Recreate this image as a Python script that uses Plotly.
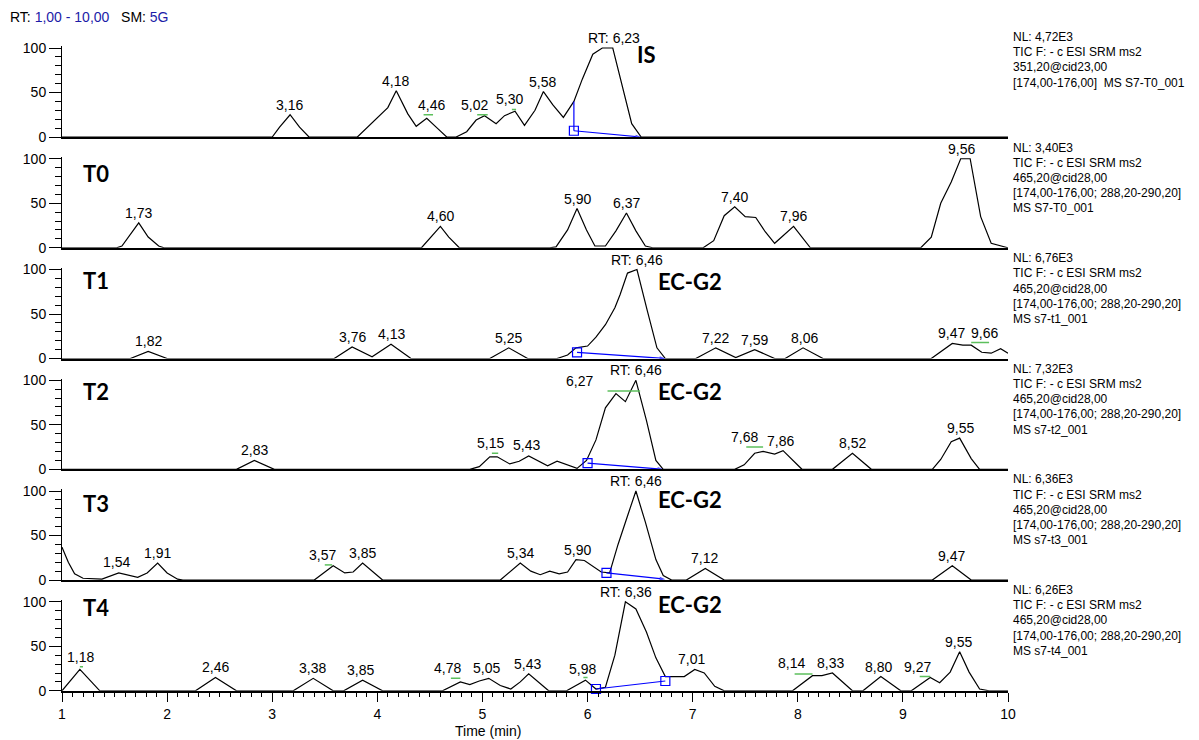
import plotly.graph_objects as go

# ---------------- data ----------------
panel_names = ["IS", "T0", "T1", "T2", "T3", "T4"]

is_t = [1.00, 3.00, 3.07, 3.17, 3.26, 3.35, 3.81, 3.91, 4.01, 4.10, 4.18, 4.29, 4.37, 4.47, 4.57, 4.66, 4.75,
        4.85, 4.94, 5.02, 5.13, 5.21, 5.31, 5.40, 5.50, 5.58, 5.67, 5.77, 5.87, 5.95, 6.05, 6.14, 6.24, 6.32,
        6.42, 6.51, 10.00]
is_v = [0, 0, 11, 25, 11, 0, 0, 11, 23, 33, 52, 26, 12, 21, 10, 0, 0, 6, 19, 24, 15, 24, 29, 13, 30, 51, 36,
        22, 40, 65, 93, 100, 100, 63, 15, 0, 0]

t0_t = [1.00, 1.52, 1.57, 1.63, 1.73, 1.82, 1.92, 1.97, 4.42, 4.60, 4.68, 4.78, 5.64, 5.70, 5.81, 5.90, 5.99,
        6.07, 6.17, 6.27, 6.37, 6.46, 6.55, 6.62, 7.10, 7.20, 7.30, 7.40, 7.50, 7.60, 7.69, 7.78, 7.96, 8.12,
        9.17, 9.27, 9.36, 9.46, 9.55, 9.64, 9.74, 9.84, 9.93, 10.00]
t0_v = [0, 0, 2, 12, 28, 12, 2, 0, 0, 24, 12, 0, 0, 1, 20, 44, 20, 2, 2, 19, 39, 19, 2, 0, 0, 8, 36, 46, 35,
        34, 18, 5, 24, 0, 0, 12, 50, 74, 100, 100, 35, 5, 2, 0]

t1_t = [1.00, 1.65, 1.82, 2.00, 3.59, 3.76, 3.95, 4.13, 4.32, 5.07, 5.25, 5.43, 5.71, 5.81, 5.89, 6.00, 6.08,
        6.17, 6.26, 6.31, 6.38, 6.47, 6.57, 6.66, 6.74, 7.03, 7.22, 7.41, 7.59, 7.78, 7.88, 8.05, 8.24, 9.27,
        9.47, 9.57, 9.65, 9.75, 9.84, 9.93, 10.00]
t1_v = [0, 0, 8, 0, 0, 13, 2, 16, 0, 0, 12, 0, 0, 4, 12, 14, 24, 38, 57, 72, 96, 100, 53, 12, 0, 0, 12, 1, 10,
        0, 0, 12, 0, 0, 17, 15, 15, 7, 6, 11, 6]

t2_t = [1.00, 2.66, 2.83, 3.02, 4.88, 4.97, 5.07, 5.14, 5.26, 5.35, 5.44, 5.54, 5.62, 5.71, 5.81, 5.90, 5.99,
        6.08, 6.17, 6.27, 6.36, 6.46, 6.56, 6.65, 6.72, 7.40, 7.49, 7.59, 7.67, 7.78, 7.86, 7.95, 8.04, 8.33,
        8.52, 8.70, 9.28, 9.36, 9.46, 9.54, 9.65, 9.73, 10.00]
t2_v = [0, 0, 10, 0, 0, 3, 14, 14, 6, 9, 15, 9, 4, 9, 5, 1, 10, 33, 69, 85, 76, 100, 55, 10, 0, 0, 5, 18, 20,
        17, 21, 11, 0, 0, 18, 0, 0, 11, 31, 35, 12, 0, 0]

t3_t = [1.00, 1.06, 1.12, 1.20, 1.38, 1.54, 1.72, 1.81, 1.91, 2.00, 2.10, 2.15, 3.40, 3.58, 3.69, 3.77, 3.86,
        4.05, 5.17, 5.36, 5.46, 5.55, 5.64, 5.73, 5.81, 5.89, 5.97, 6.05, 6.13, 6.21, 6.29, 6.38, 6.46, 6.55,
        6.65, 6.72, 6.80, 6.94, 7.12, 7.30, 9.28, 9.47, 9.65, 10.00]
t3_v = [37, 20, 7, 2, 1, 8, 3, 8, 19, 8, 1, 0, 0, 16, 8, 9, 19, 0, 0, 19, 10, 6, 10, 7, 9, 23, 22, 15, 9, 8,
        40, 72, 100, 65, 23, 5, 0, 0, 13, 0, 0, 16, 0, 0]

t4_t = [1.00, 1.17, 1.36, 2.27, 2.46, 2.66, 3.20, 3.39, 3.58, 3.68, 3.86, 4.05, 4.62, 4.79, 4.88, 4.97, 5.06,
        5.17, 5.27, 5.36, 5.44, 5.54, 5.63, 5.80, 5.98, 6.08, 6.17, 6.26, 6.36, 6.46, 6.56, 6.65, 6.74, 6.83,
        6.92, 7.02, 7.11, 7.21, 7.30, 7.95, 8.14, 8.23, 8.33, 8.52, 8.62, 8.79, 8.98, 9.08, 9.26, 9.35, 9.45,
        9.54, 9.63, 9.73, 9.82, 10.00]
t4_v = [0, 24, 0, 0, 15, 0, 0, 14, 0, 0, 12, 0, 0, 10, 7, 11, 14, 6, 2, 10, 19, 9, 0, 0, 12, 2, 4, 40, 100,
        92, 66, 37, 16, 16, 16, 24, 20, 5, 0, 0, 17, 17, 20, 0, 0, 16, 0, 0, 15, 9, 21, 44, 21, 2, 0, 0]

# peak labels: (text, time, intensity)
is_labels = [("3,16", 3.16, 25), ("4,18", 4.17, 52), ("4,46", 4.52, 25), ("5,02", 4.92, 25),
             ("5,30", 5.26, 31), ("5,58", 5.57, 51), ("RT: 6,23", 6.25, 100)]
t0_labels = [("1,73", 1.73, 28), ("4,60", 4.60, 24), ("5,90", 5.90, 44), ("6,37", 6.37, 39),
             ("7,40", 7.40, 46), ("7,96", 7.96, 24), ("9,56", 9.56, 100)]
t1_labels = [("1,82", 1.82, 8), ("3,76", 3.76, 13), ("4,13", 4.13, 16), ("5,25", 5.25, 12),
             ("RT: 6,46", 6.47, 100), ("7,22", 7.22, 12), ("7,59", 7.59, 10), ("8,06", 8.06, 12),
             ("9,47", 9.46, 17), ("9,66", 9.78, 18)]
t2_labels = [("2,83", 2.83, 10), ("5,15", 5.08, 18), ("5,43", 5.42, 16), ("6,27", 5.92, 88),
             ("RT: 6,46", 6.46, 100), ("7,68", 7.49, 25), ("7,86", 7.84, 21), ("8,52", 8.52, 18),
             ("9,55", 9.55, 35)]
t3_labels = [("1,54", 1.52, 9), ("1,91", 1.91, 19), ("3,57", 3.48, 17), ("3,85", 3.86, 19),
             ("5,34", 5.36, 19), ("5,90", 5.90, 23), ("RT: 6,46", 6.46, 100), ("7,12", 7.11, 13),
             ("9,47", 9.46, 16)]
t4_labels = [("1,18", 1.18, 27), ("2,46", 2.46, 15), ("3,38", 3.38, 14), ("3,85", 3.84, 12),
             ("4,78", 4.67, 14), ("5,05", 5.04, 14), ("5,43", 5.43, 19), ("5,98", 5.95, 13),
             ("RT: 6,36", 6.37, 100), ("7,01", 6.99, 24), ("8,14", 7.94, 20), ("8,33", 8.31, 20),
             ("8,80", 8.77, 16), ("9,27", 9.14, 16), ("9,55", 9.53, 44)]

# green label marks: (t start, t end, intensity)
is_green = [(4.44, 4.53, 25), (4.95, 5.05, 25), (5.28, 5.32, 31)]
t0_green = []
t1_green = [(9.65, 9.82, 18)]
t2_green = [(5.09, 5.15, 18), (6.19, 6.50, 88), (7.51, 7.67, 25)]
t3_green = [(3.50, 3.57, 17)]
t4_green = [(1.17, 1.20, 27), (4.70, 4.79, 14), (5.96, 6.00, 15), (7.97, 8.14, 19), (9.16, 9.26, 16)]

# integration baselines: (t start, v start, t end, v end)
is_base = (5.87, 7, 6.51, 0)
t1_base = (5.90, 7, 6.74, 0)
t2_base = (6.00, 7, 6.72, 0)
t3_base = (6.18, 8, 6.74, 1)
t4_base = (6.08, 2, 6.74, 11)
is_drop = (5.87, 40)

compound_names = ["IS", None, "EC-G2", "EC-G2", "EC-G2", "EC-G2"]
compound_pos = [(6.56, 93), None, (6.97, 87), (6.97, 87), (6.97, 90), (6.97, 97)]
sample_pos_v = [None, 83, 88, 87, 86, 94]

nl_values = ["4,72E3", "3,40E3", "6,76E3", "7,32E3", "6,36E3", "6,26E3"]
filters = ["351,20@cid23,00"] + ["465,20@cid28,00"] * 5
ranges = ["[174,00-176,00]\u00a0 MS S7-T0_001"] + ["[174,00-176,00; 288,20-290,20]"] * 5
files = [None, "MS S7-T0_001", "MS s7-t1_001", "MS s7-t2_001", "MS s7-t3_001", "MS s7-t4_001"]

x_ticks = [1, 2, 3, 4, 5, 6, 7, 8, 9, 10]

series = [(is_t, is_v), (t0_t, t0_v), (t1_t, t1_v), (t2_t, t2_v), (t3_t, t3_v), (t4_t, t4_v)]
labels = [is_labels, t0_labels, t1_labels, t2_labels, t3_labels, t4_labels]
greens = [is_green, t0_green, t1_green, t2_green, t3_green, t4_green]
bases = [is_base, None, t1_base, t2_base, t3_base, t4_base]

# ---------------- layout geometry ----------------
W, H = 1199, 740
X0, X1 = 62, 1008
BASE0, STEP, UNIT = 137.0, 110.76, 0.89
YMAX = 102
FONT = "Liberation Sans, Arial, sans-serif"
BOLD = "Lato, Carlito, sans-serif"
BLUE = "#0000ff"
GREEN = "#5cbf5c"
TXTBLUE = "#1c1ca8"

fig = go.Figure()
annotations = []
layout = {}

for i in range(6):
    sfx = "" if i == 0 else str(i + 1)
    xa, ya = "x" + sfx, "y" + sfx
    b = BASE0 + STEP * i
    top = b - YMAX * UNIT
    last = (i == 5)

    xax = dict(
        domain=[X0 / W, X1 / W], anchor=ya, range=[1, 10], automargin=False,
        showline=True, linecolor="black", linewidth=2, showgrid=False, zeroline=False,
        tickvals=x_ticks if last else [], ticks="outside" if last else "",
        ticklen=9, tickwidth=1, tickcolor="black",
        showticklabels=last, tickfont=dict(family=FONT, size=14, color="black"),
    )
    if last:
        xax["minor"] = dict(dtick=0.1, tick0=0, ticks="outside", ticklen=4, tickcolor="black", tickwidth=1)
    if i > 0:
        xax["matches"] = "x"
    layout["xaxis" + sfx] = xax
    layout["yaxis" + sfx] = dict(
        domain=[1 - b / H, 1 - top / H], anchor=xa, range=[0, YMAX], automargin=False,
        showline=True, linecolor="black", linewidth=1, showgrid=False, zeroline=False,
        tickvals=[0, 50, 100], ticks="outside", ticklen=12, tickwidth=1, tickcolor="black",
        tickfont=dict(family=FONT, size=14, color="black"),
        minor=dict(dtick=10, tick0=0, ticks="outside", ticklen=6, tickcolor="black", tickwidth=1),
    )

    t, v = series[i]
    fig.add_trace(go.Scatter(x=t, y=v, mode="lines", line=dict(color="black", width=1.2),
                             xaxis=xa, yaxis=ya, hoverinfo="skip"))

    for (g0, g1, gv) in greens[i]:
        fig.add_trace(go.Scatter(x=[g0, g1], y=[gv, gv], mode="lines", line=dict(color=GREEN, width=1.5),
                                 xaxis=xa, yaxis=ya, hoverinfo="skip"))

    if i == 0:
        fig.add_trace(go.Scatter(x=[is_drop[0], is_base[0]], y=[is_drop[1], is_base[1]], mode="lines",
                                 line=dict(color=BLUE, width=1.2), xaxis=xa, yaxis=ya, hoverinfo="skip"))
    if bases[i] is not None:
        bt0, bv0, bt1, bv1 = bases[i]
        if i == 5:
            fig.add_trace(go.Scatter(
                x=[bt0, bt1], y=[bv0, bv1], mode="lines+markers",
                line=dict(color=BLUE, width=1.2),
                marker=dict(symbol="square-open", size=9, color=BLUE, line=dict(color=BLUE, width=1.2)),
                xaxis=xa, yaxis=ya, hoverinfo="skip", cliponaxis=False))
        else:
            fig.add_trace(go.Scatter(
                x=[bt0, bt1], y=[bv0, bv1], mode="lines+markers",
                line=dict(color=BLUE, width=1.2),
                marker=dict(symbol="arrow", size=[0, 6], color=BLUE, angleref="previous",
                            line=dict(color=BLUE, width=0)),
                xaxis=xa, yaxis=ya, hoverinfo="skip", cliponaxis=False))
            fig.add_trace(go.Scatter(
                x=[bt0], y=[bv0], mode="markers",
                marker=dict(symbol="square-open", size=9, color=BLUE, line=dict(color=BLUE, width=1.2)),
                xaxis=xa, yaxis=ya, hoverinfo="skip", cliponaxis=False))

    for (txt, lt, lv) in labels[i]:
        annotations.append(dict(x=lt, y=lv, xref=xa, yref=ya, text=txt, showarrow=False,
                                xanchor="center", yanchor="bottom", yshift=0,
                                font=dict(family=FONT, size=14, color="black")))

    if sample_pos_v[i] is not None:
        annotations.append(dict(x=1.32, y=sample_pos_v[i], xref=xa, yref=ya, text="<b>%s</b>" % panel_names[i],
                                showarrow=False, xanchor="center", yanchor="middle",
                                font=dict(family=BOLD, size=22, color="black")))
    if compound_names[i] is not None:
        ct, cv = compound_pos[i]
        annotations.append(dict(x=ct, y=cv, xref=xa, yref=ya, text="<b>%s</b>" % compound_names[i],
                                showarrow=False, xanchor="center", yanchor="middle",
                                font=dict(family=BOLD, size=22, color="black")))

    # right-hand info text
    lines = ["NL: " + nl_values[i], "TIC F: - c ESI SRM ms2", filters[i], ranges[i]]
    if files[i] is not None:
        lines.append(files[i])
    nl_y = 37 + 110.6 * i
    for k, ln in enumerate(lines):
        annotations.append(dict(x=1011 / W, y=1 - (nl_y + 15.2 * k) / H, xref="paper", yref="paper",
                                text=ln, showarrow=False, xanchor="left", yanchor="middle",
                                font=dict(family=FONT, size=12, color="black")))

# header
annotations.append(dict(
    x=8 / W, y=1 - 17 / H, xref="paper", yref="paper", showarrow=False, xanchor="left", yanchor="middle",
    text="RT: <span style='color:%s'>1,00 - 10,00</span>\u00a0\u00a0\u00a0SM: <span style='color:%s'>5G</span>"
         % (TXTBLUE, TXTBLUE),
    font=dict(family=FONT, size=14, color="black")))
# x-axis title
annotations.append(dict(x=488 / W, y=1 - 731 / H, xref="paper", yref="paper", showarrow=False,
                        xanchor="center", yanchor="middle", text="Time (min)",
                        font=dict(family=FONT, size=14, color="black")))

fig.update_layout(
    width=W, height=H, margin=dict(l=0, r=0, t=0, b=0, autoexpand=False),
    paper_bgcolor="white", plot_bgcolor="white", showlegend=False,
    annotations=annotations, **layout)

fig.write_html("out.html", config={"displayModeBar": False},
               post_script="document.body.style.margin='0px';document.body.style.overflow='hidden';")
